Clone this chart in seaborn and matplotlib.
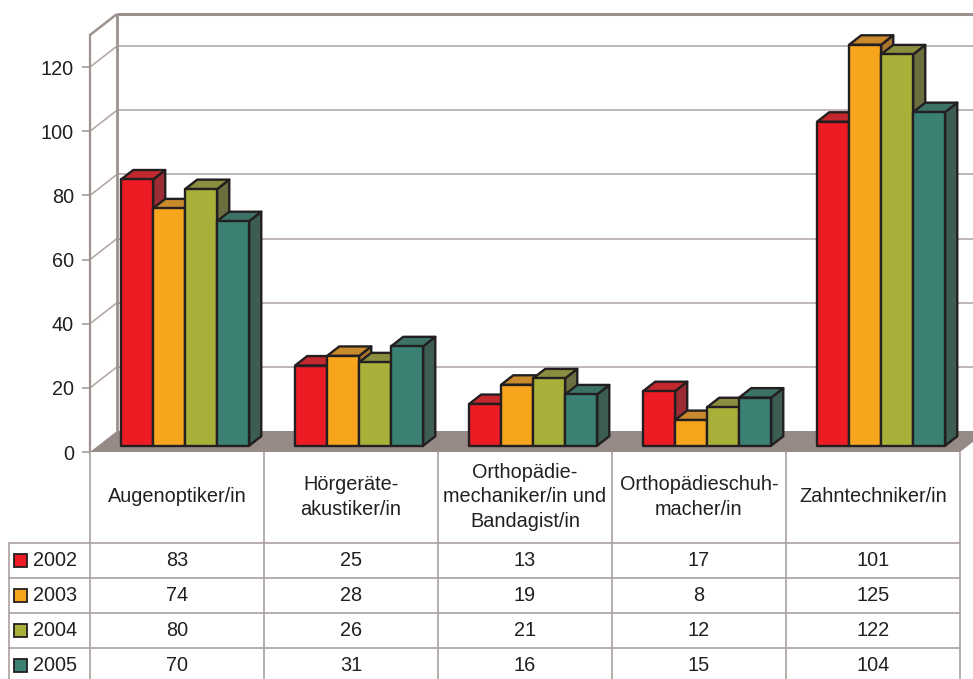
import matplotlib
matplotlib.use("Agg")
import numpy as np
import pandas as pd
import matplotlib.pyplot as plt
import seaborn as sns
from matplotlib.patches import Polygon, Rectangle
from matplotlib.lines import Line2D
from matplotlib.transforms import IdentityTransform, Affine2D

# ---- data -------------------------------------------------------------
berufe = [
    "Augenoptiker/in",
    "Hörgeräte-\nakustiker/in",
    "Orthopädie-\nmechaniker/in und\nBandagist/in",
    "Orthopädieschuh-\nmacher/in",
    "Zahntechniker/in",
]
jahre = ["2002", "2003", "2004", "2005"]
werte_2002 = [83, 25, 13, 17, 101]
werte_2003 = [74, 28, 19, 8, 125]
werte_2004 = [80, 26, 21, 12, 122]
werte_2005 = [70, 31, 16, 15, 104]
y_ticks = [0, 20, 40, 60, 80, 100, 120]

werte = [werte_2002, werte_2003, werte_2004, werte_2005]

front_colors = ["#ED1C24", "#F7A51C", "#A8B03A", "#3A8073"]
top_colors = ["#C2282E", "#C98A2C", "#8A8E3E", "#3D7366"]
side_colors = ["#9C2C33", "#A9752F", "#6C6E3F", "#3D5D53"]

df = pd.DataFrame(
    [(b, j, v) for j, vals in zip(jahre, werte) for b, v in zip(berufe, vals)],
    columns=["Beruf", "Jahr", "Anzahl"],
)

# ---- figure -------------------------------------------------------------
W, H = 973, 679
sns.set_style("white")
plt.rcParams["font.family"] = ["Liberation Sans", "DejaVu Sans"]
TXT = "#231F20"
EDGE = "#231F20"
WALL = "#9C928F"
GRID = "#B3AAA7"
FLOOR = "#968A87"
TABLE = "#A9A1A0"
FS = 14.3

fig = plt.figure(figsize=(W / 100, H / 100), dpi=100)
fig.patch.set_facecolor("white")
ax = fig.add_axes([90 / W, 227 / H, 870 / W, 417 / H])
ax.set_facecolor("none")

sns.barplot(
    data=df, x="Beruf", y="Anzahl", hue="Jahr", hue_order=jahre, order=berufe,
    palette=dict(zip(jahre, front_colors)), saturation=1, width=0.736, gap=0,
    edgecolor=EDGE, linewidth=1.7, errorbar=None, legend=False, ax=ax,
)
ax.set_xlim(-0.5, len(berufe) - 0.5)
ax.set_ylim(0, 130)
ax.set_xticks([])
ax.set_yticks(y_ticks)
ax.set_xlabel("")
ax.set_ylabel("")
for s in ["top", "right", "bottom"]:
    ax.spines[s].set_visible(False)
ax.spines["left"].set_color(WALL)
ax.spines["left"].set_linewidth(1.6)
ax.tick_params(axis="y", length=6, width=1.1, color=WALL, pad=5.5,
               labelsize=FS, labelcolor=TXT, left=True)

# depth of the 3D box in pixels (x right, y up)
D = np.array([27.0, 21.0])
BAR_F, BAR_B = 0.30, 0.75


def px(x, y):
    return ax.transData.transform((x, y))


def poly(points, fc, ec="none", lw=0.0, z=1.0):
    p = Polygon(points, closed=True, facecolor=fc, edgecolor=ec, linewidth=lw,
                transform=IdentityTransform(), zorder=z, clip_on=False,
                joinstyle="round")
    ax.add_artist(p)
    return p


def line(p0, p1, color, lw, z=0.5):
    ax.add_artist(Line2D([p0[0], p1[0]], [p0[1], p1[1]], color=color, linewidth=lw,
                         transform=IdentityTransform(), zorder=z, clip_on=False,
                         solid_capstyle="butt"))


x_lo, x_hi = -0.5, len(berufe) - 0.5

# back wall, left wall and gridlines
for v in y_ticks[1:]:
    line(px(x_lo, v), px(x_lo, v) + D, GRID, 1.2, 0.4)
    line(px(x_lo, v) + D, px(x_hi, v) + D + [30, 0], GRID, 1.2, 0.4)
line(px(x_lo, 130), px(x_lo, 130) + D, WALL, 1.8, 0.6)
line(px(x_lo, 0) + D, px(x_lo, 130) + D, WALL, 2.0, 0.6)
line(px(x_lo, 130) + D, px(x_hi, 130) + D + [30, 0], WALL, 2.2, 0.6)

# floor
poly([px(x_lo, 0), px(x_hi, 0), px(x_hi, 0) + D, px(x_lo, 0) + D], FLOOR, z=1.0)

# bars: front faces from seaborn, shifted into depth, plus side and top faces
shift = Affine2D().translate(*(BAR_F * D))
depth = (BAR_B - BAR_F) * D
for k, cont in enumerate(ax.containers):
    for bar in cont:
        x0, w, h = bar.get_x(), bar.get_width(), bar.get_height()
        bar.set_transform(ax.transData + shift)
        bar.set_zorder(3 + 2 * k)
        bar.set_clip_on(False)
        bar.set_joinstyle("round")
        off = BAR_F * D
        bl, br = px(x0, 0) + off, px(x0 + w, 0) + off
        tl, tr = px(x0, h) + off, px(x0 + w, h) + off
        poly([br, tr, tr + depth, br + depth], side_colors[k], EDGE, 1.7, 2 + 2 * k)
        poly([tl, tr, tr + depth, tl + depth], top_colors[k], EDGE, 1.7, 2 + 2 * k)

# ---- data table -------------------------------------------------------
col_x = [px(x_lo + i, 0)[0] for i in range(len(berufe) + 1)]
col_c = [px(i, 0)[0] for i in range(len(berufe))]
row_lines = [543, 578, 613, 648]
row_centers = [560.5, 595.5, 630.5, 665.5]
table_top = 452
left_x = 9


def tline(x0, y0, x1, y1):
    fig.add_artist(Line2D([x0 / W, x1 / W], [1 - y0 / H, 1 - y1 / H],
                          color=TABLE, linewidth=1.2, transform=fig.transFigure))


for cx in col_x:
    tline(cx, table_top, cx, H + 2)
tline(left_x, row_lines[0], left_x, H + 2)
for ry in row_lines:
    tline(left_x, ry, col_x[-1], ry)

for cx, name in zip(col_c, berufe):
    fig.text(cx / W, 1 - 497 / H, name, ha="center", va="center",
             multialignment="center", fontsize=FS, color=TXT, linespacing=1.38)

for k, (jahr, vals) in enumerate(zip(jahre, werte)):
    yc = row_centers[k]
    fig.add_artist(Rectangle(((left_x + 5) / W, 1 - (yc + 6.5) / H), 13 / W, 13 / H,
                             facecolor=front_colors[k], edgecolor=EDGE, linewidth=1.3,
                             transform=fig.transFigure))
    fig.text((left_x + 24) / W, 1 - yc / H, jahr, ha="left", va="center",
             fontsize=FS, color=TXT)
    for cx, v in zip(col_c, vals):
        fig.text(cx / W, 1 - yc / H, f"{v}", ha="center", va="center",
                 fontsize=FS, color=TXT)

fig.savefig("out.png", dpi=100, facecolor="white")
